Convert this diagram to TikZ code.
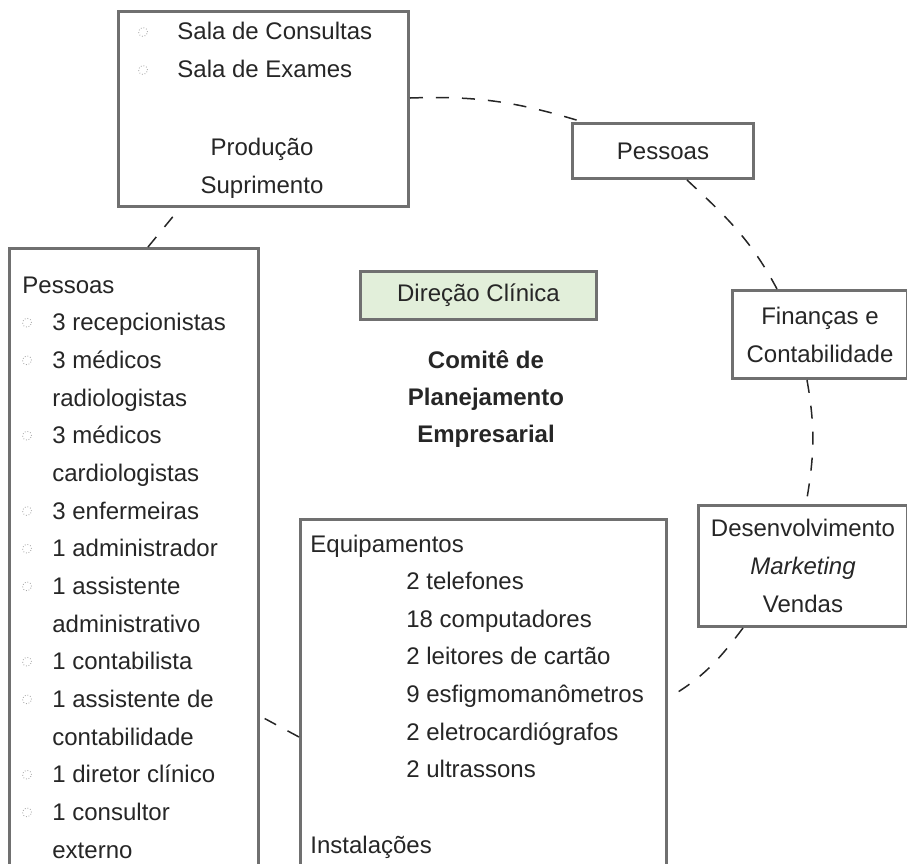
\documentclass[tikz,border=0pt]{standalone}
\usepackage{fontspec}
\setmainfont{Liberation Sans}
\usetikzlibrary{calc}
\definecolor{boxgray}{HTML}{707070}
\definecolor{ink}{HTML}{262626}
\definecolor{dotgray}{HTML}{A0A0A0}
\definecolor{paleGreen}{HTML}{E2EFDA}
\begin{document}
\begin{tikzpicture}[x=0.5pt,y=0.5pt,
  box/.style={draw=boxgray, line width=1.5pt, fill=white, inner sep=0pt, anchor=north west,
              text=ink, font=\fontsize{12}{19}\selectfont, align=center},
  txt/.style={inner sep=0pt, text=ink, font=\fontsize{12}{19}\selectfont, anchor=base west},
  ctxt/.style={txt, anchor=base},
  btxt/.style={ctxt, font=\fontsize{12}{19}\bfseries\selectfont},
  bul/.style={circle, draw=dotgray, densely dotted, line width=0.4pt, inner sep=0pt, minimum size=4.5pt},
  link/.style={draw=black!85, line width=0.75pt, dash pattern=on 6.5pt off 6.5pt}]
\useasboundingbox (0,0) rectangle (907,-864);
\clip (0,0) rectangle (907,-864);

% boxes of the cycle
\node[box, minimum width=145pt, minimum height=97.5pt] (prod) at (117,-10) {};
\node[box, minimum width=90.5pt, minimum height=27.5pt] (pes) at (571,-122) {Pessoas};
\node[box, minimum width=87.5pt, minimum height=44pt] (fin) at (731,-289) {Finanças e\\Contabilidade};
\node[box, minimum width=104.5pt, minimum height=60.5pt] (dev) at (697,-504) {Desenvolvimento\\\textit{Marketing}\\Vendas};
\node[box, minimum width=183pt, minimum height=250pt] (equip) at (299,-518) {};
\node[box, minimum width=124.5pt, minimum height=350pt] (gente) at (8,-247) {};

% centre
\node[box, fill=paleGreen, minimum width=118pt, minimum height=24pt] (dir) at (359,-270) {Direção Clínica};
\node[btxt] (c1) at (486,-368) {Comitê de};
\node[btxt] (c2) at (486,-405) {Planejamento};
\node[btxt] (c3) at (486,-442) {Empresarial};

% dashed cycle
\draw[link] ($(prod.north east)+(0,-88)$) to[out=2,in=163] ($(pes.north west)+(12,0)$);
\draw[link] ($(pes.south west)+(116,0)$) to[out=-43,in=118] ($(fin.north west)+(46,0)$);
\draw[link] ($(fin.south west)+(76,0)$) to[out=-80,in=80] ($(dev.north west)+(109,0)$);
\draw[link] ($(dev.south west)+(46,0)$) to[out=-127,in=30] ($(equip.north east)+(0,-180)$);
\draw[link] ($(equip.north west)+(0,-219)$) -- ($(gente.north east)+(0,-469)$);
\draw[link] ($(gente.north west)+(140,0)$) -- ($(prod.south west)+(63,0)$);

% production box contents
\node[bul] (pb1) at (143,-32) {};
\node[bul] (pb2) at (143,-70) {};
\node[txt] (p1) at (177,-39) {Sala de Consultas};
\node[txt] (p2) at (177,-77) {Sala de Exames};
\node[ctxt] (p3) at (262,-155) {Produção};
\node[ctxt] (p4) at (262,-193) {Suprimento};

% staff list
\foreach \i/\x/\t in {0/22/Pessoas, 1/52/3 recepcionistas, 2/52/3 médicos, 3/52/radiologistas,
  4/52/3 médicos, 5/52/cardiologistas, 6/52/3 enfermeiras, 7/52/1 administrador,
  8/52/1 assistente, 9/52/administrativo, 10/52/1 contabilista, 11/52/1 assistente de,
  12/52/contabilidade, 13/52/1 diretor clínico, 14/52/1 consultor, 15/52/externo}
  \node[txt] (g\i) at (\x, -293-37.67*\i) {\t};
\foreach \i in {1,2,4,6,7,8,10,11,13,14}
  \node[bul] (gb\i) at (27, -285-37.67*\i) {};

% equipment list
\node[txt] (e0) at (310,-552) {Equipamentos};
\foreach \i/\t in {1/2 telefones, 2/18 computadores, 3/2 leitores de cartão,
  4/9 esfigmomanômetros, 5/2 eletrocardiógrafos, 6/2 ultrassons}
  \node[txt] (e\i) at (406, -552-37.6*\i) {\t};
\node[txt] (e8) at (310,-853) {Instalações};
\end{tikzpicture}
\end{document}
